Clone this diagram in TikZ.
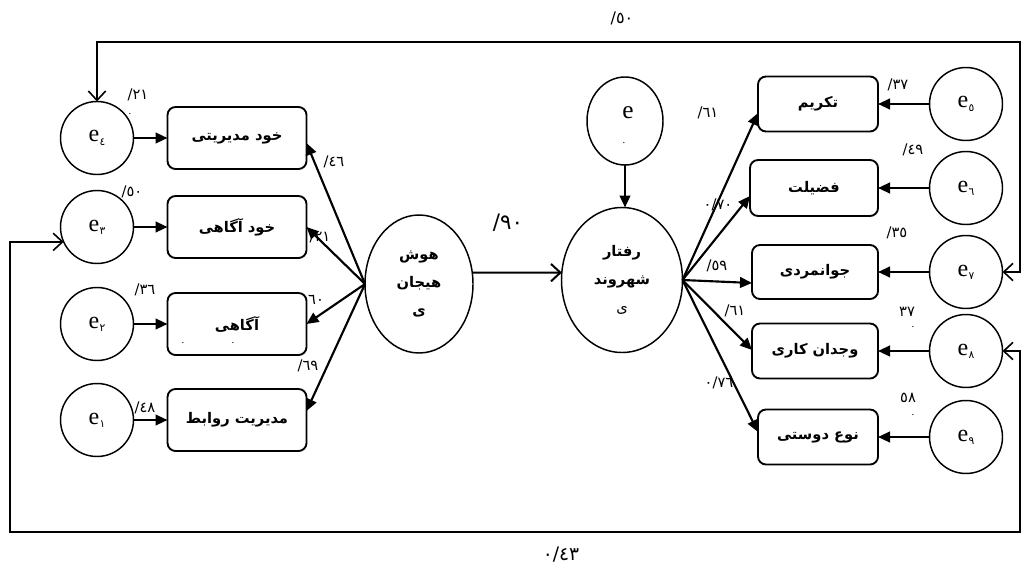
\documentclass[tikz,border=0pt]{standalone}
\usepackage{fontspec}
\setmainfont{Liberation Serif}
\newfontfamily\arabicfont[Script=Arabic]{DejaVu Sans}
\newfontfamily\digfont{DejaVu Sans}
\TeXXeTstate=1
\usetikzlibrary{arrows.meta,shapes.geometric,calc}
\newlength{\pxu}
\setlength{\pxu}{0.75pt}
\newcommand{\fatext}[1]{{\arabicfont\beginR #1\endR}}
\newcommand{\evar}[1]{e\kern0.2pt\raisebox{-0.3ex}{\digfont\fontsize{8}{8}\selectfont #1}}
\begin{document}
\begin{tikzpicture}[x=0.75pt,y=-0.75pt,
  every node/.style={inner sep=0pt, outer sep=0pt},
  obsbox/.style={draw, line width=1.4pt, rounded corners=6pt, minimum height=62\pxu,
     font=\arabicfont\bfseries\fontsize{11}{13}\selectfont},
  errc/.style={draw, circle, line width=1.1pt, minimum size=73\pxu, font=\fontsize{18}{18}\selectfont},
  latent/.style={draw, ellipse, line width=1.1pt, align=center},
  lab/.style={font=\digfont\fontsize{11}{11}\selectfont},
  dotlab/.style={font=\fontsize{8}{8}\selectfont},
  farrow/.style={line width=1.6pt, -{Triangle[length=9pt,width=8pt]}},
  covl/.style={line width=1.2pt, {Straight Barb[length=7pt,width=13pt]}-{Straight Barb[length=7pt,width=13pt]}},
  oarrow/.style={line width=1.5pt, -{Straight Barb[length=7pt,width=13pt]}},
]
\useasboundingbox (0,0) rectangle (1024,585);

% left error circles
\node[errc] (e4) at (97,138) {\evar{٤}};
\node[errc] (e3) at (97,227) {\evar{٣}};
\node[errc] (e2) at (97,324) {\evar{٢}};
\node[errc] (e1) at (97,420) {\evar{١}};

% left boxes
\node[obsbox, minimum width=139\pxu] (l1) at (237,138) {\fatext{خود مدیریتی}};
\node[obsbox, minimum width=139\pxu] (l2) at (237,227) {\fatext{خود آگاهی}};
\node[obsbox, minimum width=139\pxu] (l3) at (237,324) {\fatext{آگاهی}};
\node[obsbox, minimum width=139\pxu] (l4) at (237,420) {\fatext{مدیریت روابط}};

% latent variables
\node[latent, minimum width=108\pxu, minimum height=138\pxu,
  font=\arabicfont\bfseries\fontsize{11}{21}\selectfont] (hoosh) at (419,284)
  {\fatext{هوش}\\\fatext{هیجان}\\\fatext{ی}};
\node[latent, minimum width=121\pxu, minimum height=145\pxu,
  font=\arabicfont\bfseries\fontsize{11}{21}\selectfont] (rafter) at (622,280)
  {\fatext{رفتار}\\\fatext{شهروند}\\{\mdseries\fatext{ی}}};
\node[latent, minimum width=76\pxu, minimum height=88\pxu] (etop) at (625,121) {};
\node[font=\fontsize{19}{19}\selectfont] (etopl) at (628,113) {e};
\node[dotlab] (etopd) at (624,143) {.};

% right boxes
\node[obsbox, minimum width=120\pxu, minimum height=55\pxu] (r1) at (818,104) {\fatext{تکریم}};
\node[obsbox, minimum width=128\pxu, minimum height=56\pxu] (r2) at (814,188) {\fatext{فضیلت}};
\node[obsbox, minimum width=126\pxu, minimum height=54\pxu] (r3) at (815,272) {\fatext{جوانمردی}};
\node[obsbox, minimum width=126\pxu, minimum height=55\pxu] (r4) at (815,351) {\fatext{وجدان کاری}};
\node[obsbox, minimum width=120\pxu, minimum height=55\pxu] (r5) at (818,437) {\fatext{نوع دوستی}};

% right error circles
\node[errc] (e5) at (966,104) {\evar{٥}};
\node[errc] (e6) at (966,188) {\evar{٦}};
\node[errc] (e7) at (966,272) {\evar{٧}};
\node[errc] (e8) at (966,351) {\evar{٨}};
\node[errc] (e9) at (966,437) {\evar{٩}};

% labels
\node[lab] (a1) at (138,95) {/٢١};
\node[dotlab] (a1d) at (130,114) {.};
\node[lab] (a2) at (334,162) {/٤٦};
\node[lab] (a3) at (132,192) {/٥٠};
\node[lab] (a4) at (320,237) {/٢١};
\node[lab] (a5) at (145,290) {/٣٦};
\node[lab] (a6) at (316,300) {٦٠};
\node[dotlab] (a6a) at (183,343) {.};
\node[dotlab] (a6b) at (233,343) {.};
\node[lab] (a7) at (308,366) {/٦٩};
\node[lab] (a8) at (145,408) {/٤٨};
\node[font=\digfont\fontsize{16}{16}\selectfont] (a9) at (508,223) {/٩٠};
\node[lab] (b1) at (708,113) {/٦١};
\node[lab] (b2) at (718,205) {٠/٧٠};
\node[lab] (b3) at (717,266) {/٥٩};
\node[lab] (b4) at (735,311) {/٦١};
\node[lab] (b5) at (719,383) {٠/٧٦};
\node[lab] (c1) at (898,85) {/٣٧};
\node[lab] (c2) at (913,150) {/٤٩};
\node[lab] (c3) at (897,233) {/٣٥};
\node[lab] (c4) at (907,312) {٣٧};
\node[dotlab] (c4d) at (913,327) {.};
\node[lab] (c5) at (908,398) {٥٨};
\node[dotlab] (c5d) at (913,415) {.};
\node[font=\digfont\fontsize{12}{12}\selectfont] (topl) at (622,18) {/٥٠};
\node[font=\digfont\fontsize{14}{14}\selectfont] (botl) at (561,555) {٠/٤٣};

% error -> indicator arrows
\draw[farrow] (e4) -- (l1);
\draw[farrow] (e3) -- (l2);
\draw[farrow] (e2) -- (l3);
\draw[farrow] (e1) -- (l4);
\draw[farrow] (e5) -- (r1);
\draw[farrow] (e6) -- (r2);
\draw[farrow] (e7) -- (r3);
\draw[farrow] (e8) -- (r4);
\draw[farrow] (e9) -- (r5);

% loadings
\draw[farrow] (hoosh.west) -- ($(l1.east)+(0,5)$);
\draw[farrow] (hoosh.west) -- (l2.east);
\draw[farrow] (hoosh.west) -- (l3.east);
\draw[farrow] (hoosh.west) -- ($(l4.east)+(0,-9)$);
\draw[farrow] (rafter.east) -- ($(r1.west)+(0,9)$);
\draw[farrow] (rafter.east) -- ($(r2.west)+(0,8)$);
\draw[farrow] (rafter.east) -- ($(r3.west)+(0,11)$);
\draw[farrow] (rafter.east) -- ($(r4.west)+(0,-1)$);
\draw[farrow] (rafter.east) -- ($(r5.west)+(0,-5)$);

% structural path
\draw[oarrow] (hoosh.12) -- (rafter.173);
\draw[farrow] (etop.south) -- (etop.south |- rafter.north);

% covariances
\coordinate (tr) at (1020,42);
\coordinate (bl) at (10,532);
\coordinate (br) at (1020,532);
\draw[covl] (e4.north) |- (tr) |- (e7.east);
\draw[covl] (e3.204) -| (bl) -| (br) |- (e8.east);
\end{tikzpicture}
\end{document}
